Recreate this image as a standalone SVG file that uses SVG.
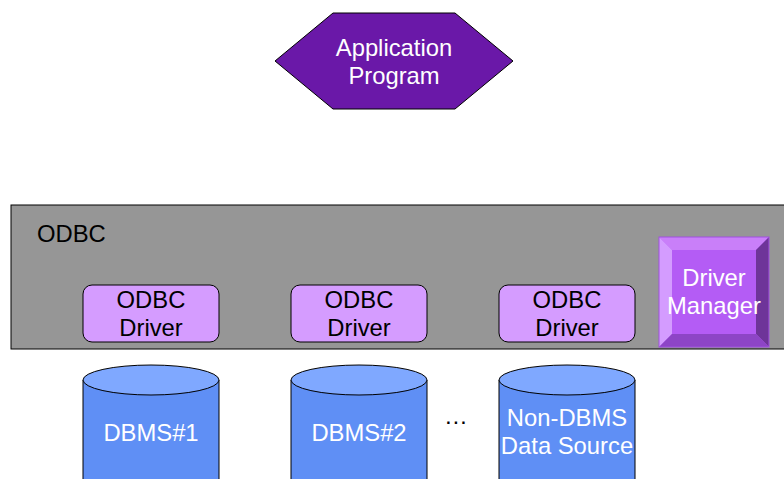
<svg xmlns="http://www.w3.org/2000/svg" width="784" height="479" viewBox="0 0 784 479">
  <style>
    text { font-family: "Liberation Sans", Arial, sans-serif; font-size: 23.8px; text-anchor: middle; }
    .dark { fill: #000; }
    .light { fill: #fff; }
    .drv { fill: #d59cff; stroke: #000; stroke-width: 1; }
    .cyl { fill: #5f8ff5; stroke: #000; stroke-width: 1; }
    .cyltop { fill: #7fa8ff; stroke: #000; stroke-width: 1; }
  </style>
  <defs>
    <g id="cylinder">
      <path class="cyl" d="M0,15 L0,130 L136,130 L136,15"/>
      <ellipse class="cyltop" cx="68" cy="15" rx="68" ry="15"/>
    </g>
  </defs>

  <rect width="784" height="479" fill="#fff"/>

  <g id="application-program">
    <polygon points="333,13 455,13 513,61 455,109 333,109 275,61" fill="#6a18a8" stroke="#000" stroke-width="1"/>
    <text class="light" x="394" y="56">Application</text>
    <text class="light" x="394" y="84">Program</text>
  </g>

  <g id="odbc">
    <rect x="11" y="205" width="780" height="144" fill="#969696" stroke="#000" stroke-width="1"/>
    <text class="dark" x="37" y="242" style="text-anchor:start">ODBC</text>
  </g>

  <g id="driver-1">
    <rect class="drv" x="83" y="285" width="136" height="57" rx="9"/>
    <text class="dark" x="151" y="308">ODBC</text>
    <text class="dark" x="151" y="336">Driver</text>
  </g>
  <g id="driver-2">
    <rect class="drv" x="291" y="285" width="136" height="57" rx="9"/>
    <text class="dark" x="359" y="308">ODBC</text>
    <text class="dark" x="359" y="336">Driver</text>
  </g>
  <g id="driver-3">
    <rect class="drv" x="499" y="285" width="136" height="57" rx="9"/>
    <text class="dark" x="567" y="308">ODBC</text>
    <text class="dark" x="567" y="336">Driver</text>
  </g>

  <g id="driver-manager">
    <rect x="659" y="237" width="110" height="110" fill="#b45cf5"/>
    <polygon points="659,237 769,237 756,250 672,250" fill="#c97ff9"/>
    <polygon points="659,237 672,250 672,334 659,347" fill="#d49cff"/>
    <polygon points="769,237 769,347 756,334 756,250" fill="#6e3499"/>
    <polygon points="659,347 672,334 756,334 769,347" fill="#8d45c6"/>
    <rect x="659" y="237" width="110" height="110" fill="none" stroke="#a050e0" stroke-width="1"/>
    <text class="light" x="714" y="286">Driver</text>
    <text class="light" x="714" y="314">Manager</text>
  </g>

  <g id="dbms-1">
    <use href="#cylinder" x="83" y="365"/>
    <text class="light" x="151" y="441">DBMS#1</text>
  </g>
  <g id="dbms-2">
    <use href="#cylinder" x="291" y="365"/>
    <text class="light" x="359" y="441">DBMS#2</text>
  </g>
  <g id="ellipsis">
    <text class="dark" x="456" y="424">…</text>
  </g>
  <g id="non-dbms">
    <use href="#cylinder" x="499" y="365"/>
    <text class="light" x="567" y="426">Non-DBMS</text>
    <text class="light" x="567" y="454">Data Source</text>
  </g>

  <g id="connectors"></g>
</svg>
